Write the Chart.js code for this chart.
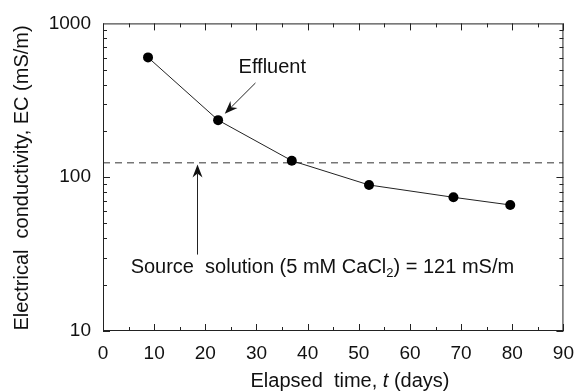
<!DOCTYPE html>
<html>
<head>
<meta charset="utf-8">
<script src="https://cdn.jsdelivr.net/npm/chart.js@4/dist/chart.umd.min.js"></script>
<style>
  html, body { margin: 0; padding: 0; background: #fff; }
  #wrap { width: 585px; height: 392px; }
</style>
</head>
<body>
<div id="wrap"><canvas id="ecChart" width="585" height="392"></canvas></div>
<script>
// ---- data ----
const days = [8.8, 22.5, 36.9, 52.0, 68.5, 79.6];
const ecValues = [601, 235, 128, 89, 74, 66];
const sourceEC = 124;
const xTickValues = [0, 10, 20, 30, 40, 50, 60, 70, 80, 90];
const yTickValues = [10, 100, 1000];

const FONT = '"Liberation Sans", Arial, Helvetica, sans-serif';

function arrow(ctx, x1, y1, x2, y2) {
    // line from (x1,y1) to tip (x2,y2) with a notched head
    const ang = Math.atan2(y2 - y1, x2 - x1);
    const len = 13, half = 5, notch = 9;
    ctx.beginPath();
    ctx.moveTo(x1, y1);
    ctx.lineTo(x2 - Math.cos(ang) * notch, y2 - Math.sin(ang) * notch);
    ctx.stroke();
    const bx = x2 - Math.cos(ang) * len, by = y2 - Math.sin(ang) * len;
    const nx = x2 - Math.cos(ang) * notch, ny = y2 - Math.sin(ang) * notch;
    ctx.beginPath();
    ctx.moveTo(x2, y2);
    ctx.lineTo(bx + Math.sin(ang) * half, by - Math.cos(ang) * half);
    ctx.lineTo(nx, ny);
    ctx.lineTo(bx - Math.sin(ang) * half, by + Math.cos(ang) * half);
    ctx.closePath();
    ctx.fill();
}

// inward tick marks, frame, titles and notes
const decorPlugin = {
    id: 'decor',
    afterDatasetsDraw(chart) {
        const { ctx, chartArea: a, scales: { x, y } } = chart;
        ctx.save();
        ctx.strokeStyle = '#222';
        ctx.fillStyle = '#111';
        ctx.lineWidth = 1;

        // frame
        ctx.strokeRect(a.left + 0.5, a.top + 0.5, a.right - a.left - 1, a.bottom - a.top - 1);

        // x ticks (top & bottom)
        ctx.beginPath();
        for (let v = 0; v <= 90; v += 5) {
            const px = Math.round(x.getPixelForValue(v)) + 0.5;
            const l = v % 10 === 0 ? 7 : 4;
            ctx.moveTo(px, a.bottom); ctx.lineTo(px, a.bottom - l);
            ctx.moveTo(px, a.top); ctx.lineTo(px, a.top + l);
        }
        // y ticks (left & right)
        [10, 100].forEach(dec => {
            for (let k = 1; k <= 9; k++) {
                const py = Math.round(y.getPixelForValue(k * dec)) + 0.5;
                const l = k === 1 ? 7 : 4;
                ctx.moveTo(a.left, py); ctx.lineTo(a.left + l, py);
                ctx.moveTo(a.right, py); ctx.lineTo(a.right - l, py);
            }
        });
        ctx.stroke();

        // annotations
        ctx.font = '20px ' + FONT;
        ctx.textBaseline = 'middle';
        ctx.textAlign = 'left';
        ctx.fillText('Effluent', x.getPixelForValue(26.5), y.getPixelForValue(513));
        arrow(ctx, x.getPixelForValue(29.8), y.getPixelForValue(410),
            x.getPixelForValue(23.8), y.getPixelForValue(259));

        const ax = Math.round(x.getPixelForValue(18.4)) + 0.5;
        arrow(ctx, ax, y.getPixelForValue(31.4), ax, y.getPixelForValue(121));

        let tx = x.getPixelForValue(5.4);
        const ty = y.getPixelForValue(26);
        const part1 = 'Source  solution (5 mM CaCl';
        ctx.fillText(part1, tx, ty);
        tx += ctx.measureText(part1).width;
        ctx.font = '13px ' + FONT;
        ctx.fillText('2', tx, ty + 6);
        tx += ctx.measureText('2').width;
        ctx.font = '20px ' + FONT;
        ctx.fillText(') = 121 mS/m', tx, ty);

        // axis titles
        const xt1 = 'Elapsed  time, ', xt2 = 't', xt3 = ' (days)';
        ctx.font = '20px ' + FONT;
        const w1 = ctx.measureText(xt1).width, w3 = ctx.measureText(xt3).width;
        ctx.font = 'italic 20px ' + FONT;
        const w2 = ctx.measureText(xt2).width;
        let sx = 350 - (w1 + w2 + w3) / 2;
        const sy = 381;
        ctx.font = '20px ' + FONT;
        ctx.fillText(xt1, sx, sy);
        ctx.font = 'italic 20px ' + FONT;
        ctx.fillText(xt2, sx + w1, sy);
        ctx.font = '20px ' + FONT;
        ctx.fillText(xt3, sx + w1 + w2, sy);

        ctx.translate(22, 178);
        ctx.rotate(-Math.PI / 2);
        ctx.textAlign = 'center';
        ctx.fillText('Electrical  conductivity, EC (mS/m)', 0, 0);
        ctx.restore();
    }
};

new Chart(document.getElementById('ecChart'), {
    type: 'scatter',
    data: {
        datasets: [
            {
                label: 'Effluent',
                data: days.map((d, i) => ({ x: d, y: ecValues[i] })),
                showLine: true,
                borderColor: '#222',
                borderWidth: 1,
                backgroundColor: '#000',
                pointRadius: 5,
                pointBorderWidth: 0,
                pointBackgroundColor: '#000'
            },
            {
                label: 'Source solution',
                data: [{ x: 0, y: sourceEC }, { x: 90, y: sourceEC }],
                showLine: true,
                borderColor: '#333',
                borderWidth: 1,
                borderDash: [7, 5],
                pointRadius: 0
            }
        ]
    },
    options: {
        responsive: false,
        animation: false,
        layout: { padding: { left: 0, right: 13, top: 20, bottom: 0 } },
        plugins: {
            legend: { display: false },
            tooltip: { enabled: false }
        },
        scales: {
            x: {
                type: 'linear',
                min: 0,
                max: 90,
                afterBuildTicks: s => { s.ticks = xTickValues.map(v => ({ value: v })); },
                afterFit: s => { s.height = 61; },
                grid: { display: false, drawTicks: false },
                border: { display: false },
                ticks: { color: '#111', padding: 11, font: { size: 19, family: FONT } }
            },
            y: {
                type: 'logarithmic',
                min: 10,
                max: 1000,
                afterBuildTicks: s => { s.ticks = yTickValues.map(v => ({ value: v })); },
                afterFit: s => { s.width = 103; },
                grid: { display: false, drawTicks: false },
                border: { display: false },
                ticks: {
                    color: '#111', padding: 12, font: { size: 19, family: FONT },
                    callback: v => String(v)
                }
            }
        }
    },
    plugins: [decorPlugin]
});
</script>
</body>
</html>
